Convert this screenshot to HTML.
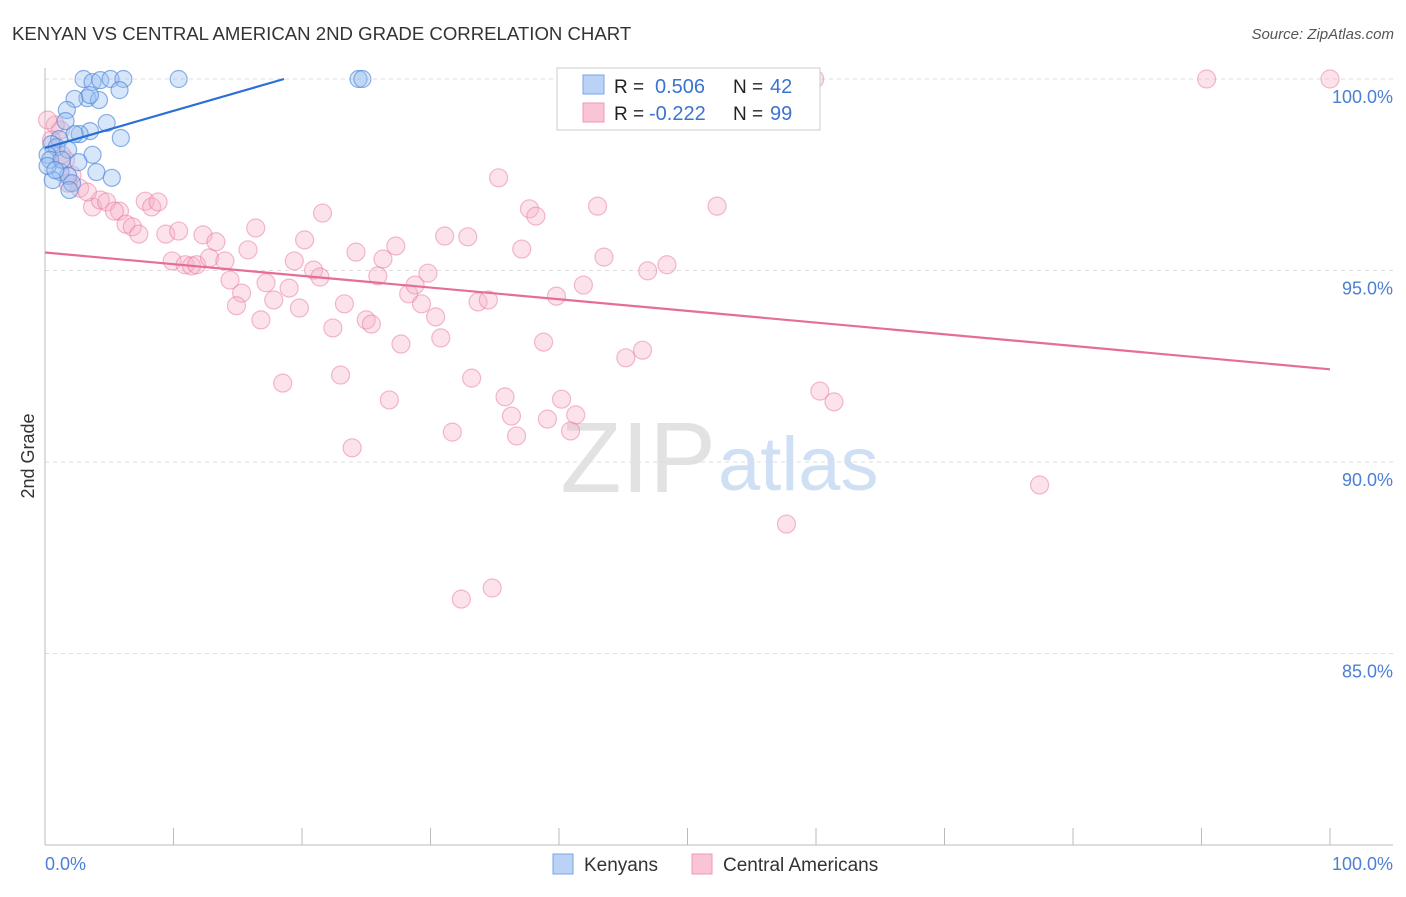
<!DOCTYPE html>
<html><head><meta charset="utf-8"><style>
body{margin:0;background:#fff;font-family:"Liberation Sans",sans-serif}
svg text{font-family:"Liberation Sans",sans-serif}
</style></head><body>
<svg id="chart" width="1406" height="892" xmlns="http://www.w3.org/2000/svg">
<text x="12" y="40" font-size="18.6" fill="#333">KENYAN VS CENTRAL AMERICAN 2ND GRADE CORRELATION CHART</text>
<text x="1394" y="39" font-size="15" fill="#555" font-style="italic" text-anchor="end">Source: ZipAtlas.com</text>
<text x="716" y="492" font-size="100" fill="#e2e2e2" text-anchor="end" font-family="Liberation Serif">ZIP</text>
<text x="718" y="490" font-size="76" fill="#cfe0f5">atlas</text>
<g id="grid"></g>
<line x1="45" y1="68" x2="45" y2="845" stroke="#bbb"/>
<line x1="45" y1="845" x2="1393" y2="845" stroke="#bbb"/>
<text transform="translate(34,456) rotate(-90)" font-size="18" fill="#333" text-anchor="middle">2nd Grade</text>
<text x="45" y="870" font-size="18" fill="#4a7fd4">0.0%</text>
<text x="1393" y="870" font-size="18" fill="#4a7fd4" text-anchor="end">100.0%</text>
<g id="pts"></g>
<g id="lines"></g>
<g>
<rect x="557" y="68" width="263" height="62" fill="#fff" stroke="#ccc"/>
<rect x="583" y="75" width="21" height="19" fill="#b9d2f5" stroke="#7aa5e6"/>
<rect x="583" y="103" width="21" height="19" fill="#f9c4d3" stroke="#ee9ab4"/>
<text x="614" y="93" font-size="19" fill="#222">R = </text><text x="655" y="93" font-size="20" fill="#3b73d1">0.506</text>
<text x="733" y="93" font-size="19" fill="#222">N = </text><text x="770" y="93" font-size="20" fill="#3b73d1">42</text>
<text x="614" y="120" font-size="19" fill="#222">R = </text><text x="649" y="120" font-size="20" fill="#3b73d1">-0.222</text>
<text x="733" y="120" font-size="19" fill="#222">N = </text><text x="770" y="120" font-size="20" fill="#3b73d1">99</text>
</g>
<g>
<rect x="553" y="854" width="20" height="20" fill="#b9d2f5" stroke="#7aa5e6"/>
<text x="584" y="871" font-size="19" fill="#333">Kenyans</text>
<rect x="692" y="854" width="20" height="20" fill="#f9c4d3" stroke="#ee9ab4"/>
<text x="723" y="871" font-size="19" fill="#333">Central Americans</text>
</g>
</svg>
<script>
const yTicks=[100,95,90,85];
const yTickLabels=["100.0%","95.0%","90.0%","85.0%"];
const xTicks=[0,10,20,30,40,50,60,70,80,90,100];
const blueX=[3.0,3.7,4.3,5.1,6.1,10.4,24.4,24.7,3.3,2.3,4.2,3.5,5.8,1.7,1.6,4.8,3.5,2.7,2.3,5.9,1.1,0.5,0.9,1.8,0.2,3.7,0.4,2.6,4.0,1.2,1.8,5.2,0.6,2.1,1.9,0.2,1.3,0.8];
const blueY=[100,99.92,99.97,100,100,100,100,100,99.5,99.48,99.45,99.58,99.71,99.19,98.9,98.85,98.64,98.56,98.56,98.46,98.43,98.3,98.22,98.15,98.02,98.02,97.89,97.83,97.57,97.57,97.47,97.42,97.36,97.28,97.1,97.73,97.89,97.62];
const pinkX=[59.9,90.4,100,35.3,21.6,37.7,38.2,43.0,52.3,3.7,4.3,4.8,5.8,5.4,6.3,6.8,7.3,7.8,8.3,8.8,9.4,10.4,12.3,13.3,16.4,15.8,20.2,24.2,27.3,31.1,32.9,37.1,43.5,9.9,10.9,11.4,11.8,12.8,14.0,14.4,15.3,14.9,16.8,17.2,17.8,19.0,19.4,19.8,20.9,21.4,23.3,22.4,25.0,25.4,25.9,26.3,28.3,28.8,29.3,29.8,30.4,30.8,33.7,34.5,39.8,41.9,46.9,48.4,27.7,38.8,45.2,46.5,18.5,23.0,26.8,33.2,35.8,36.3,39.1,40.2,41.3,40.9,36.7,31.7,23.9,60.3,61.4,77.4,57.7,32.4,34.8,2.7,3.3,1.6,1.2,2.1,0.8,1.8,0.5,1.3,0.2];
const pinkY=[100,100,100,97.42,96.5,96.61,96.42,96.68,96.68,96.66,96.84,96.79,96.55,96.55,96.21,96.14,95.95,96.81,96.66,96.79,95.95,96.03,95.93,95.75,96.11,95.54,95.8,95.48,95.64,95.9,95.88,95.56,95.35,95.25,95.15,95.12,95.15,95.33,95.25,94.75,94.41,94.08,93.71,94.68,94.23,94.54,95.25,94.02,95.01,94.83,94.13,93.5,93.71,93.6,94.86,95.3,94.39,94.62,94.13,94.93,93.79,93.24,94.18,94.23,94.33,94.62,94.99,95.15,93.08,93.13,92.72,92.92,92.06,92.27,91.62,92.19,91.7,91.2,91.12,91.64,91.23,90.81,90.68,90.78,90.37,91.85,91.57,89.4,88.38,86.42,86.71,97.15,97.05,97.89,98.67,97.49,98.8,97.28,98.41,98.02,98.93];
const blueTrend=[[0,98.2],[18.6,100]];
const pinkTrend=[[0,95.47],[100,92.42]];
const NS="http://www.w3.org/2000/svg";
const xs=v=>45+v*12.85, ys=v=>79+(100-v)*38.3;
function mk(t,a,p){const e=document.createElementNS(NS,t);for(const k in a)e.setAttribute(k,a[k]);p.appendChild(e);return e;}
const grid=document.getElementById('grid');
yTicks.forEach((t,i)=>{
 const l=mk('line',{x1:45,x2:1393,y1:ys(t),y2:ys(t),stroke:'#ddd','stroke-dasharray':'4,4'},grid);
 
 
 const tx=mk('text',{x:1393,y:ys(t)+24,'font-size':18,fill:'#4a7fd4','text-anchor':'end'},grid);
 tx.textContent=yTickLabels[i];
 
 
});
xTicks.forEach(t=>{
 const l=mk('line',{x1:xs(t),x2:xs(t),y1:828,y2:845,stroke:'#bbb'},grid);
 
 
});
const pts=document.getElementById('pts');
pinkX.forEach((x,i)=>{
 const c=mk('circle',{cx:xs(x),cy:ys(pinkY[i]),r:9,fill:'rgba(245,175,198,0.35)',stroke:'rgba(232,120,158,0.5)','stroke-width':1.2},pts);
 
 
});
blueX.forEach((x,i)=>{
 const c=mk('circle',{cx:xs(x),cy:ys(blueY[i]),r:8.5,fill:'rgba(155,192,240,0.4)',stroke:'rgba(80,135,220,0.65)','stroke-width':1.2},pts);
 
 
});
const lines=document.getElementById('lines');
const bl=mk('line',{x1:xs(blueTrend[0][0]),y1:ys(blueTrend[0][1]),x2:xs(blueTrend[1][0]),y2:ys(blueTrend[1][1]),stroke:'#2a6fd6','stroke-width':2.2},lines);


const pl=mk('line',{x1:xs(pinkTrend[0][0]),y1:ys(pinkTrend[0][1]),x2:xs(pinkTrend[1][0]),y2:ys(pinkTrend[1][1]),stroke:'#e56d99','stroke-width':2.2},lines);


</script>
</body></html>
